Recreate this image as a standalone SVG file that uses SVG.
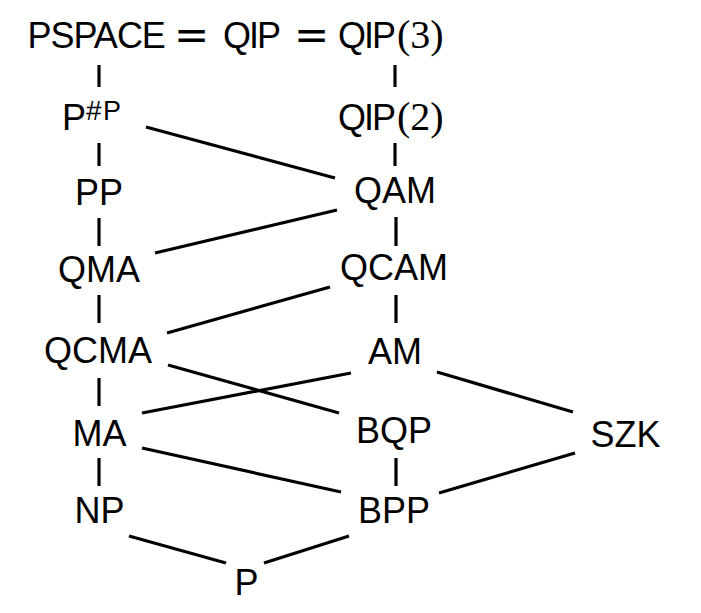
<svg xmlns="http://www.w3.org/2000/svg" width="701" height="613" viewBox="0 0 701 613">
<style>
  text { font-family: "Liberation Sans", Arial, sans-serif; font-size: 36px; fill: #000; }
  text.c { text-anchor: middle; }
  .m { font-family: "Liberation Serif", "Times New Roman", serif; font-size: 40px; }
  .eq { font-family: "DejaVu Sans", sans-serif; font-size: 42px; }
  .e line { stroke: #000; stroke-width: 3.2; stroke-linecap: butt; }
</style>
<rect width="701" height="613" fill="#fff"/>
<g class="e" id="edges">
  <line x1="99" y1="65" x2="99" y2="87"/>
  <line x1="395" y1="65" x2="395" y2="87"/>
  <line x1="99" y1="143" x2="99" y2="166"/>
  <line x1="395" y1="143" x2="395" y2="166"/>
  <line x1="146" y1="127" x2="335" y2="178"/>
  <line x1="99" y1="218" x2="99" y2="246"/>
  <line x1="396" y1="217" x2="396" y2="246"/>
  <line x1="337" y1="210" x2="155" y2="253"/>
  <line x1="99" y1="295" x2="99" y2="323"/>
  <line x1="396" y1="295" x2="396" y2="323"/>
  <line x1="330" y1="287" x2="167" y2="333"/>
  <line x1="99" y1="378" x2="99" y2="406"/>
  <line x1="168" y1="365" x2="339" y2="413"/>
  <line x1="351" y1="373" x2="142" y2="413"/>
  <line x1="437" y1="372" x2="573" y2="412"/>
  <line x1="99" y1="458" x2="99" y2="486"/>
  <line x1="142" y1="448" x2="341" y2="492"/>
  <line x1="396" y1="458" x2="396" y2="486"/>
  <line x1="575" y1="453" x2="439" y2="493"/>
  <line x1="129" y1="536" x2="226" y2="563"/>
  <line x1="349" y1="536" x2="264" y2="563"/>
</g>
<g id="pspace">
  <text y="48"><tspan x="27.5" letter-spacing="-1">PSPACE</tspan><tspan class="eq" x="174" y="49">=</tspan><tspan x="223" y="48" letter-spacing="-2">QIP</tspan><tspan class="eq" x="294" y="49">=</tspan><tspan x="338" y="48" letter-spacing="-2">QIP</tspan><tspan class="m" x="397">(3)</tspan></text>
</g>
<g id="psharpp">
  <text y="130"><tspan x="62">P</tspan><tspan x="86" y="120" font-size="28">#</tspan><tspan x="103" y="120" font-size="27">P</tspan></text>
</g>
<g id="qip2">
  <text y="130"><tspan x="338" letter-spacing="-2">QIP</tspan><tspan class="m" x="397">(2)</tspan></text>
</g>
<g id="pp"><text class="c" x="99" y="205">PP</text></g>
<g id="qam"><text class="c" x="395" y="203">QAM</text></g>
<g id="qma"><text class="c" x="99" y="282">QMA</text></g>
<g id="qcam"><text class="c" x="394" y="280">QCAM</text></g>
<g id="qcma"><text class="c" x="98" y="363">QCMA</text></g>
<g id="am"><text class="c" x="395" y="364">AM</text></g>
<g id="ma"><text class="c" x="99.5" y="446">MA</text></g>
<g id="bqp"><text class="c" x="394" y="443">BQP</text></g>
<g id="szk"><text class="c" x="625.5" y="447">SZK</text></g>
<g id="np"><text class="c" x="99.5" y="523">NP</text></g>
<g id="bpp"><text class="c" x="394" y="523">BPP</text></g>
<g id="p"><text class="c" x="246.5" y="595">P</text></g>
</svg>
